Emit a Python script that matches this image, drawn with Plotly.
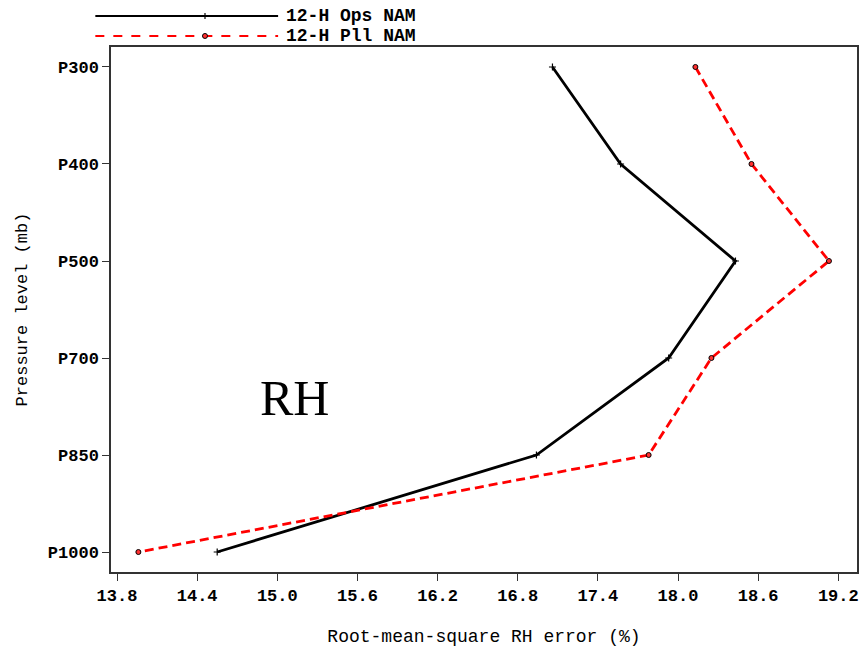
import plotly.graph_objects as go

levels = ["P300", "P400", "P500", "P700", "P850", "P1000"]
ops_nam = [17.06, 17.57, 18.43, 17.93, 16.94, 14.55]
pll_nam = [18.13, 18.55, 19.13, 18.25, 17.78, 13.96]
series_names = ["12-H Ops NAM", "12-H Pll NAM"]
x_ticks = [13.8, 14.4, 15.0, 15.6, 16.2, 16.8, 17.4, 18.0, 18.6, 19.2]

mono = "Liberation Mono"

fig = go.Figure()
fig.add_trace(go.Scatter(
    x=ops_nam, y=levels, mode="lines+markers", name=series_names[0],
    line=dict(color="black", width=2.8),
    marker=dict(symbol="cross-thin", size=5, line=dict(color="black", width=1.2)),
    showlegend=False))
fig.add_trace(go.Scatter(
    x=pll_nam, y=levels, mode="lines+markers", name=series_names[1],
    line=dict(color="#ff0000", width=2.8, dash="9px,5px"),
    marker=dict(symbol="circle", size=5, color="#ff3030", line=dict(color="black", width=1)),
    showlegend=False))

# manual legend (long line keys like the reference)
legend_rows = [(1.059, "black", "solid"), (1.021, "#ff0000", "dash")]
key_x = 0.126
shapes = []
annotations = []
for (yy, col, dash), name in zip(legend_rows, series_names):
    shapes.append(dict(type="line", xref="paper", yref="paper",
                       x0=-0.021, x1=0.224, y0=yy, y1=yy,
                       line=dict(color=col, width=2, dash=dash)))
    annotations.append(dict(text=name, xref="paper", yref="paper",
                            x=0.232, y=yy, xanchor="left", yanchor="middle",
                            showarrow=False,
                            font=dict(family=mono, size=18, color="black", weight="bold")))
# legend key markers
shapes.append(dict(type="line", xref="paper", yref="paper",
                   xsizemode="pixel", ysizemode="pixel",
                   xanchor=key_x, yanchor=legend_rows[0][0],
                   x0=0, x1=0, y0=-3, y1=3, line=dict(color="black", width=1.2)))
shapes.append(dict(type="circle", xref="paper", yref="paper",
                   xsizemode="pixel", ysizemode="pixel",
                   xanchor=key_x, yanchor=legend_rows[1][0],
                   x0=-2.5, x1=2.5, y0=-2.5, y1=2.5,
                   fillcolor="#ff3030", line=dict(color="black", width=1)))

annotations.append(dict(text="RH", xref="x", yref="paper", x=15.13, y=0.331,
                        xanchor="center", yanchor="middle", showarrow=False,
                        font=dict(family="Liberation Serif", size=50, color="black")))

fig.update_layout(
    width=862, height=647,
    margin=dict(l=111, r=5, t=47, b=75),
    paper_bgcolor="white", plot_bgcolor="white",
    shapes=shapes, annotations=annotations,
    xaxis=dict(range=[13.755, 19.34], tickvals=x_ticks,
               ticktext=[f"{v:.1f}" for v in x_ticks], automargin=False,
               showgrid=False, zeroline=False, showline=True, mirror=True,
               linecolor="#333333", linewidth=1.5, ticks="outside", ticklen=7,
               tickcolor="#333333",
               tickfont=dict(family=mono, size=17, color="black", weight="bold"),
               title=dict(text="Root-mean-square RH error (%)", standoff=28,
                          font=dict(family=mono, size=18, color="black"))),
    yaxis=dict(type="category", categoryorder="array", categoryarray=levels,
               range=[5.206, -0.206], automargin=False,
               showgrid=False, zeroline=False, showline=True, mirror=True,
               linecolor="#333333", linewidth=1.5, ticks="outside", ticklen=7,
               tickcolor="#333333",
               tickfont=dict(family=mono, size=17, color="black", weight="bold"),
               title=dict(text="Pressure level (mb)", standoff=16,
                          font=dict(family=mono, size=17, color="black"))),
)

fig.write_html("out.html", config={"displayModeBar": False},
               post_script="document.body.style.margin='0';")
